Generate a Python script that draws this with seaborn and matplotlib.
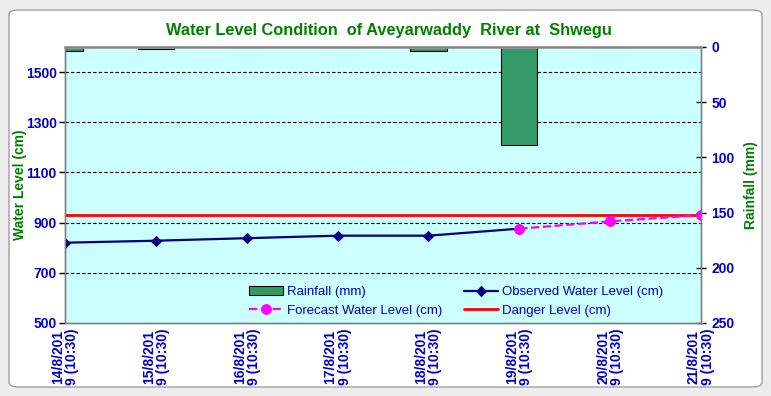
import matplotlib.pyplot as plt
import seaborn as sns
import pandas as pd
import numpy as np
from matplotlib.patches import FancyBboxPatch
from matplotlib.transforms import blended_transform_factory

# DATA
dates = ["14/8/201\n9 (10:30)", "15/8/201\n9 (10:30)", "16/8/201\n9 (10:30)", "17/8/201\n9 (10:30)",
         "18/8/201\n9 (10:30)", "19/8/201\n9 (10:30)", "20/8/201\n9 (10:30)", "21/8/201\n9 (10:30)"]
rainfall = [3.5, 1.5, 0, 0, 4, 89, 0, 0]
observed = [820, 828, 838, 848, 848, 876, np.nan, np.nan]
forecast = [np.nan, np.nan, np.nan, np.nan, np.nan, 876, 905, 930]
danger = [932] * 8
grid_levels = [700, 900, 1100, 1300, 1500]

sns.set_theme(style="white")
plt.rcParams['font.family'] = ['Liberation Sans', 'DejaVu Sans']

BLUE = '#0000CC'
GREEN = '#008000'

df = pd.DataFrame({'x': np.arange(len(dates)), 'Observed': observed,
                   'Forecast': forecast, 'Danger': danger, 'Rain': rainfall})

fig = plt.figure(figsize=(7.71, 3.96), dpi=100)
fig.patch.set_facecolor('#EDEDED')
frame = FancyBboxPatch((9 / 771, 9 / 396), 753 / 771, 377 / 396,
                       boxstyle="round,pad=0,rounding_size=0.012",
                       transform=fig.transFigure, facecolor='white',
                       edgecolor='#A0A0A0', linewidth=1, zorder=-5)
fig.patches.append(frame)

ax = fig.add_axes([65 / 771, 1 - 323 / 396, 636 / 771, 276 / 396])
ax_rain = ax.twinx()
ax_rain.set_zorder(1)
ax.set_zorder(2)
ax.patch.set_visible(False)
ax_rain.patch.set_visible(True)
ax_rain.patch.set_facecolor('#CCFFFF')

# gridlines drawn on the lower axes so the bars cover them
tr = blended_transform_factory(ax_rain.transAxes, ax.transData)
for lv in grid_levels:
    ax_rain.plot([0, 1], [lv, lv], transform=tr, color='black', linestyle=(0, (3, 2)),
                 linewidth=0.8, zorder=0)

# rainfall bars (inverted right axis)
ax_rain.bar(df['x'], df['Rain'], width=0.4, color='#339966', edgecolor='black',
            linewidth=0.8, zorder=2, label='Rainfall (mm)')
ax_rain.set_ylim(250, 0)
ax_rain.set_yticks(range(0, 251, 50))

# water levels
sns.lineplot(data=df, x='x', y='Danger', ax=ax, color='#FF0000', linewidth=2,
             label='Danger Level (cm)')
sns.lineplot(data=df, x='x', y='Observed', ax=ax, color='#000080', linewidth=1.6,
             marker='D', markersize=5, markeredgecolor='#000080', label='Observed Water Level (cm)')
sns.lineplot(data=df, x='x', y='Forecast', ax=ax, color='#FF00FF', linewidth=1.6,
             linestyle='--', marker='o', markersize=7, markeredgecolor='#FF00FF',
             label='Forecast Water Level (cm)')
ax.set_ylim(500, 1600)
ax.set_xlim(0, len(dates) - 1)
ax.set_yticks(range(500, 1600, 200))
ax.set_xticks(df['x'])
ax.set_xticklabels(dates, rotation=90, ha='center', va='top', color=BLUE,
                   fontweight='bold', fontsize=10, linespacing=1.0)
ax.set_xlabel('')
ax.set_ylabel('Water Level (cm)', color=GREEN, fontweight='bold', fontsize=10)
ax_rain.set_ylabel('Rainfall (mm)', color=GREEN, fontweight='bold', fontsize=10)
ax.yaxis.set_label_coords(-0.06, 0.5)
ax_rain.yaxis.set_label_coords(1.068, 0.5)

for a in (ax, ax_rain):
    a.tick_params(axis='y', labelsize=10, length=4, width=1, direction='out')
    for lab in a.get_yticklabels():
        lab.set_fontweight('bold')
        lab.set_color(BLUE)
    for s in a.spines.values():
        s.set_color('#808080')
        s.set_linewidth(1)
ax.tick_params(axis='x', length=4, width=1, colors='#808080', labelcolor=BLUE, pad=0)
ax_rain.tick_params(axis='y', direction='inout', length=7, colors='black', labelcolor=BLUE, pad=4)
ax.tick_params(axis='y', colors='black', labelcolor=BLUE, pad=2)
ax_rain.spines['top'].set_color('#A0A0A0')
ax_rain.spines['top'].set_linewidth(2)

# legend
h1, l1 = ax.get_legend_handles_labels()
h2, l2 = ax_rain.get_legend_handles_labels()
hd = dict(zip(l1 + l2, h1 + h2))
order = ['Rainfall (mm)', 'Forecast Water Level (cm)', 'Observed Water Level (cm)', 'Danger Level (cm)']
leg = ax.legend([hd[k] for k in order], order, loc='lower center', bbox_to_anchor=(0.615, -0.02),
                ncol=2, frameon=False, fontsize=9.5, handlelength=2.6, columnspacing=1.6,
                labelspacing=0.45, handletextpad=0.3)
for t in leg.get_texts():
    t.set_color(BLUE)

fig.text(389 / 771, 1 - 31 / 396, 'Water Level Condition  of Aveyarwaddy  River at  Shwegu',
         ha='center', va='center', color=GREEN, fontweight='bold', fontsize=11.8)

fig.savefig('out.png', dpi=100, facecolor=fig.get_facecolor())
